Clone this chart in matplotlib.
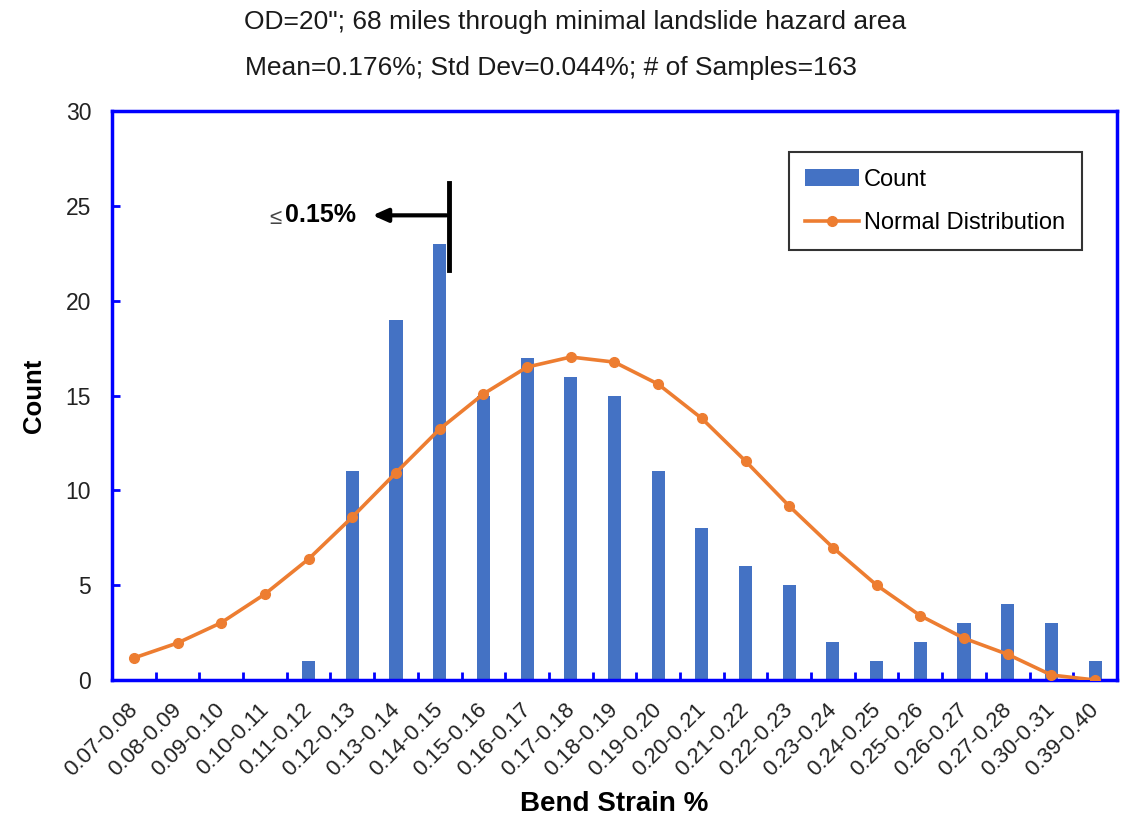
import matplotlib.pyplot as plt
import matplotlib.transforms as mtransforms
import numpy as np
from matplotlib.lines import Line2D
from matplotlib.patches import Patch

plt.rcParams['font.family'] = ['Liberation Sans', 'DejaVu Sans']

# Bend strain bins and observed counts
bins = ['0.07-0.08', '0.08-0.09', '0.09-0.10', '0.10-0.11', '0.11-0.12', '0.12-0.13',
        '0.13-0.14', '0.14-0.15', '0.15-0.16', '0.16-0.17', '0.17-0.18', '0.18-0.19',
        '0.19-0.20', '0.20-0.21', '0.21-0.22', '0.22-0.23', '0.23-0.24', '0.24-0.25',
        '0.25-0.26', '0.26-0.27', '0.27-0.28', '0.30-0.31', '0.39-0.40']
counts = [0, 0, 0, 0, 1, 11, 19, 23, 15, 17, 16, 15, 11, 8, 6, 5, 2, 1, 2, 3, 4, 3, 1]
normal = [1.16, 1.95, 3.02, 4.53, 6.38, 8.59, 10.93, 13.23, 15.08, 16.5, 17.03, 16.76,
          15.6, 13.79, 11.54, 9.17, 6.98, 5.0, 3.39, 2.2, 1.35, 0.26, 0.0]

BLUE = '#4472C4'
ORANGE = '#ED7D31'
AXIS = '#0000FF'

fig = plt.figure(figsize=(11.22, 8.17), dpi=100, facecolor='white')
ax = fig.add_axes([0.0998, 0.1677, 0.8957, 0.6964])

x = np.arange(len(bins))
ax.bar(x, counts, width=0.3, color=BLUE, zorder=2)
ax.plot(x, normal, color=ORANGE, lw=2.6, marker='o', markersize=7, zorder=3)

ax.set_xlim(-0.5, len(bins) - 0.5)
ax.set_ylim(0, 30)
ax.set_yticks([0, 5, 10, 15, 20, 25, 30])

# tick marks sit between categories on x
ax.set_xticks(x)
ax.set_xticklabels(bins, rotation=45, ha='right', va='top', fontsize=16, color='#222222')
ax.set_xticks(x[:-1] + 0.5, minor=True)
ax.tick_params(axis='x', which='major', length=0, pad=14)
ax.tick_params(axis='x', which='minor', direction='in', length=6, width=2, color=AXIS)
ax.tick_params(axis='y', direction='in', length=6, width=2, color=AXIS, labelsize=16.5,
               labelcolor='#222222', pad=15)

# nudge rotated labels a little to the right
shift = mtransforms.ScaledTranslation(0.08, 0, fig.dpi_scale_trans)
for lbl in ax.get_xticklabels():
    lbl.set_transform(lbl.get_transform() + shift)

for s in ax.spines.values():
    s.set_color(AXIS)
    s.set_linewidth(2.5)

ax.set_xlabel('Bend Strain %', fontsize=20, fontweight='bold', labelpad=7)
ax.set_ylabel('Count', fontsize=18.5, fontweight='bold', labelpad=14)

fig.text(0.513, 0.973, 'OD=20"; 68 miles through minimal landslide hazard area',
         ha='center', va='center', fontsize=19, color='#1a1a1a')
fig.text(0.491, 0.917, 'Mean=0.176%; Std Dev=0.044%; # of Samples=163',
         ha='center', va='center', fontsize=19, color='#1a1a1a')

# threshold marker at 0.15%
ax.plot([7.22, 7.22], [21.6, 26.2], color='black', lw=3.5, zorder=4)
ax.annotate('', xy=(5.4, 24.5), xytext=(7.22, 24.5),
            arrowprops=dict(arrowstyle='-|>,head_length=0.9,head_width=0.4',
                            color='black', lw=3), zorder=4)
ax.text(3.38, 24.35, '≤', ha='right', va='center', fontsize=16, color='#444444')
ax.text(5.09, 24.5, '0.15%', ha='right', va='center', fontsize=18, fontweight='bold')

handles = [Patch(facecolor=BLUE), Line2D([], [], color=ORANGE, lw=2.6, marker='o', markersize=7)]
leg = ax.legend(handles, ['Count', 'Normal Distribution'], loc='upper right',
                bbox_to_anchor=(0.965, 0.928), fontsize=17, frameon=True, fancybox=False,
                edgecolor='black', borderpad=0.7, labelspacing=0.9, handlelength=2.3,
                handletextpad=0.2, borderaxespad=0)
leg.get_frame().set_linewidth(1.5)

fig.savefig('out.png', dpi=100)
